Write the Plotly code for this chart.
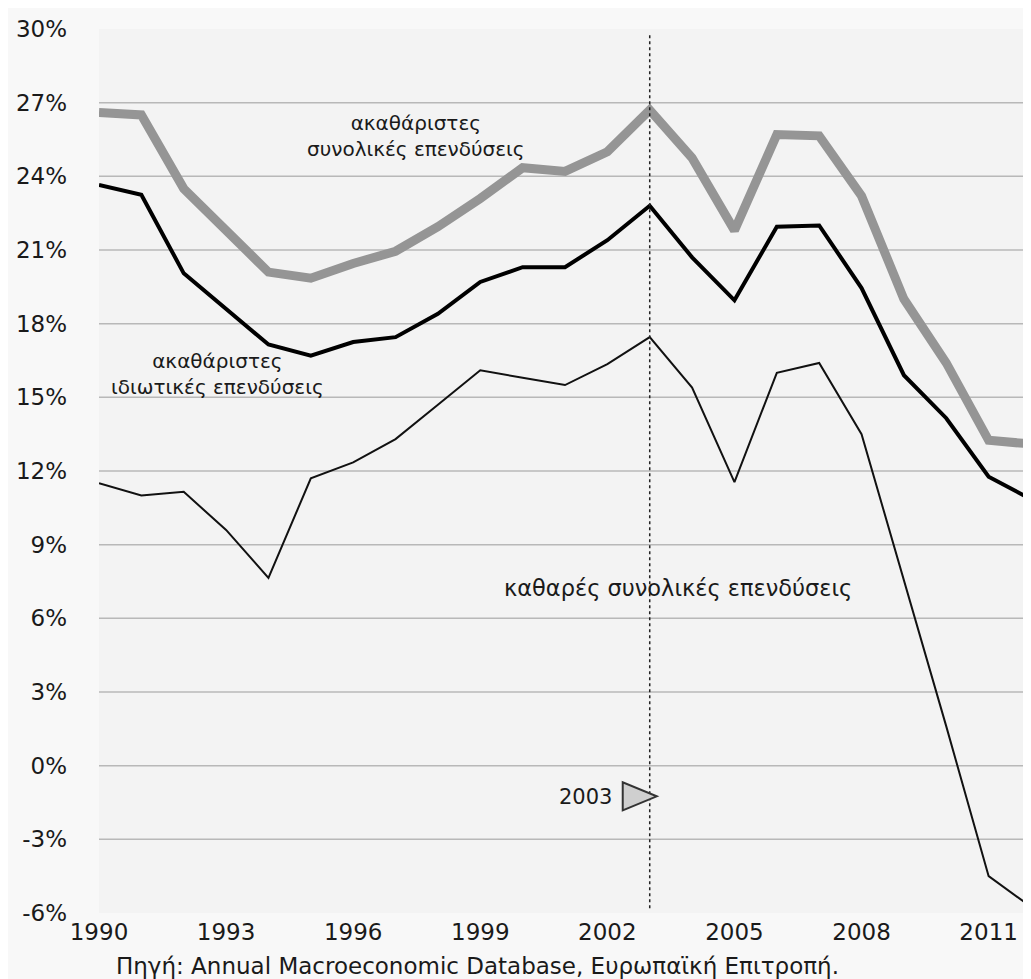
import plotly.graph_objects as go

years = list(range(1990, 2013))
gross_total = [26.6, 26.5, 23.5, 21.8, 20.1, 19.85, 20.45, 20.95, 21.95, 23.1, 24.35, 24.2,
               25.0, 26.7, 24.75, 21.8, 25.7, 25.65, 23.2, 19.0, 16.4, 13.25, 13.1]
gross_private = [23.65, 23.25, 20.05, 18.6, 17.15, 16.7, 17.25, 17.45, 18.4, 19.7, 20.3, 20.3,
                 21.4, 22.8, 20.7, 18.95, 21.95, 22.0, 19.45, 15.9, 14.15, 11.77, 10.85]
net_total = [11.5, 11.0, 11.15, 9.6, 7.65, 11.7, 12.35, 13.3, 14.7, 16.1, 15.8, 15.5,
             16.35, 17.45, 15.4, 11.55, 16.0, 16.4, 13.5, 7.6, 1.6, -4.5, -5.75]

y_ticks = list(range(-6, 31, 3))
x_ticks = list(range(1990, 2012, 3))
grid_vals = list(range(-3, 30, 3))
marker_year = 2003
marker_level = -1.25

FONT = "DejaVu Sans"

fig = go.Figure()
fig.add_trace(go.Scatter(x=years, y=gross_total, mode="lines",
                         line=dict(color="#959595", width=9), showlegend=False))
fig.add_trace(go.Scatter(x=years, y=gross_private, mode="lines",
                         line=dict(color="#000000", width=4), showlegend=False))
fig.add_trace(go.Scatter(x=years, y=net_total, mode="lines",
                         line=dict(color="#111111", width=2), showlegend=False))

shapes = []
for g in grid_vals:
    shapes.append(dict(type="line", xref="paper", x0=0, x1=1, yref="y", y0=g, y1=g,
                       line=dict(color="#b8b8b8", width=1.5), layer="below"))
shapes.append(dict(type="line", xref="x", x0=marker_year, x1=marker_year, yref="y",
                   y0=29.75, y1=-5.9, line=dict(color="#222222", width=1.5, dash="dot")))
shapes.append(dict(type="path", xref="x", yref="y", xsizemode="pixel", ysizemode="pixel",
                   xanchor=marker_year, yanchor=marker_level,
                   path="M -27,-14 L 7,0 L -27,14 Z",
                   fillcolor="#cfcfcf", line=dict(color="#333333", width=2)))

# page offset of the figure (body margin) is 8px; plot area spans page x 98..1031, y 22..913
def ann(text, px, py, size=21):
    return dict(text=text, xref="paper", yref="paper",
                x=(px - 98) / 933, y=(913 - py) / 891,
                xanchor="center", yanchor="middle", showarrow=False,
                font=dict(family=FONT, size=size, color="#1a1a1a"))

annotations = [
    ann("ακαθάριστες<br>συνολικές επενδύσεις", 415, 130, 20),
    ann("ακαθάριστες<br>ιδιωτικές επενδύσεις", 217, 370, 20),
    ann("καθαρές συνολικές επενδύσεις", 678, 585, 22.5),
    ann("2003", 585, 796),
    ann("Πηγή: Annual Macroeconomic Database, Ευρωπαϊκή Επιτροπή.", 477, 966, 23),
]

fig.update_layout(
    width=1031, height=979,
    margin=dict(l=90, r=8, t=14, b=74),
    paper_bgcolor="#f8f8f8", plot_bgcolor="#f3f3f3",
    font=dict(family=FONT, size=23, color="#1a1a1a"),
    shapes=shapes, annotations=annotations, showlegend=False,
    xaxis=dict(range=[1990, 2012], tickvals=x_ticks, showgrid=False, zeroline=False,
               showline=False, ticks="", ticklabelstandoff=3,
               tickfont=dict(family=FONT, size=23, color="#1a1a1a")),
    yaxis=dict(range=[-6, 30], tickvals=y_ticks, ticktext=[f"{v}%" for v in y_ticks],
               showgrid=False, zeroline=False, showline=False, ticks="",
               ticklabelstandoff=31,
               tickfont=dict(family=FONT, size=23, color="#1a1a1a")),
)

fig.write_html("out.html")
